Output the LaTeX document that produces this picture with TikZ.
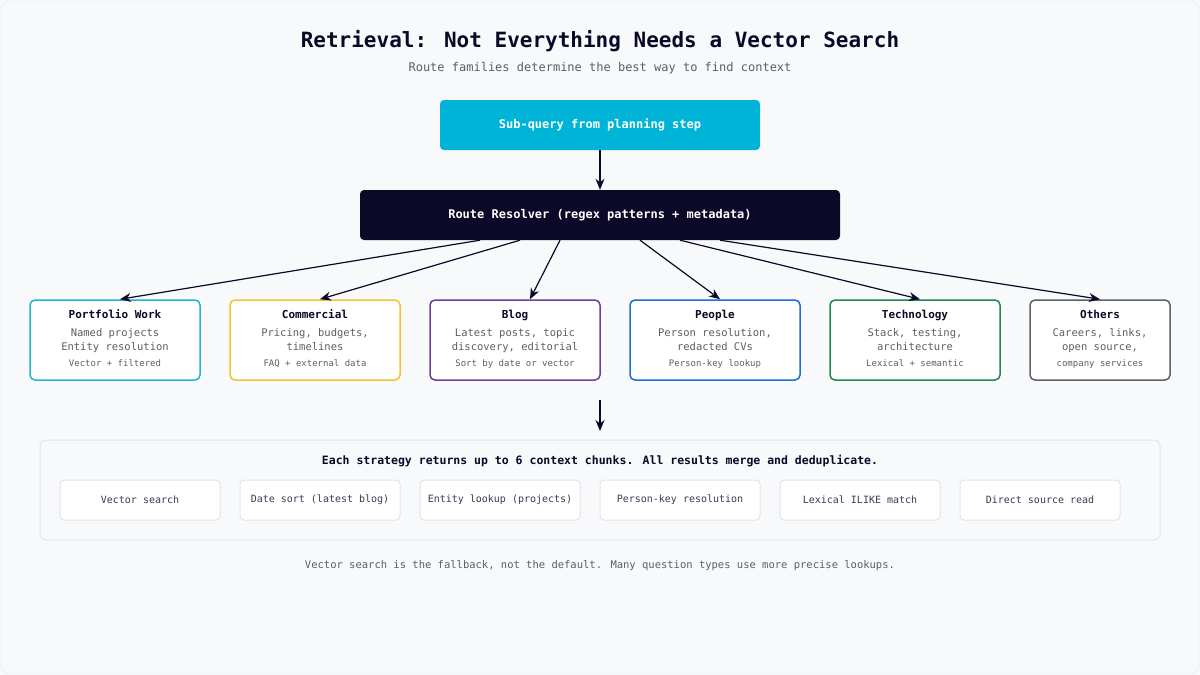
\documentclass[tikz,border=0pt]{standalone}
\usepackage{fontspec}
\setmainfont{DejaVu Sans Mono}
\usetikzlibrary{positioning,arrows.meta}
\definecolor{bgpage}{HTML}{F8F9FB}
\definecolor{ink}{HTML}{0B0828}
\definecolor{subgray}{HTML}{5A5F66}
\definecolor{cyanbox}{HTML}{00B4D8}
\definecolor{cPort}{HTML}{22B5CF}
\definecolor{cComm}{HTML}{F2C530}
\definecolor{cBlog}{HTML}{6B3FA0}
\definecolor{cPeop}{HTML}{1B6FD6}
\definecolor{cTech}{HTML}{1E8A50}
\definecolor{cOth}{HTML}{5E6368}
\definecolor{chipline}{HTML}{E2E5EA}
\tikzset{
  card/.style={draw=#1, line width=1.5pt, fill=white, rounded corners=5pt,
    minimum width=170pt, minimum height=80pt, inner sep=0pt},
  chip/.style={draw=chipline, line width=1pt, fill=white, rounded corners=4pt,
    minimum width=160pt, minimum height=40pt, font=\fontsize{10}{12}\selectfont, text=ink!80},
  route/.style={-{Stealth[length=11pt,width=9pt]}, line width=1.2pt, draw=ink},
}
\newcommand{\cardtext}[4]{%
  \def\arraystretch{1.17}%
  \begin{tabular}{@{}c@{}}\fontsize{11}{14}\selectfont\bfseries\color{ink}#1\\[4pt]
  \fontsize{10.5}{14}\selectfont\color{subgray}#2\\ \fontsize{10.5}{14}\selectfont\color{subgray}#3\\[2pt]
  \fontsize{9}{14}\selectfont\color{subgray}#4\end{tabular}}
\begin{document}
\begin{tikzpicture}[x=1pt,y=-1pt]
  % Fond
  \fill[bgpage] (0,0) rectangle (1200,675);
  \draw[chipline, rounded corners=8pt] (1,1) rectangle (1199,674);
  \node[font=\fontsize{21}{24}\selectfont\bfseries, text=ink] (title) at (600,41) {Retrieval: Not Everything Needs a Vector Search};
  \node[font=\fontsize{12}{14}\selectfont, text=subgray] (subtitle) at (600,68) {Route families determine the best way to find context};

  % Entree et resolveur
  \node[fill=cyanbox, rounded corners=4pt, minimum width=320pt, minimum height=50pt,
    text=white, font=\fontsize{12}{14}\selectfont\bfseries] (subq) at (600,125) {Sub-query from planning step};
  \node[fill=ink, rounded corners=4pt, minimum width=480pt, minimum height=50pt,
    text=white, font=\fontsize{12}{14}\selectfont\bfseries] (resolver) at (600,215) {Route Resolver (regex patterns + metadata)};
  \draw[route] (subq) -- (resolver);

  % Familles
  \node[card=cPort] (port) at (115,340) {\cardtext{Portfolio Work}{Named projects}{Entity resolution}{Vector + filtered}};
  \node[card=cComm] (comm) at (315,340) {\cardtext{Commercial}{Pricing, budgets,}{timelines}{FAQ + external data}};
  \node[card=cBlog] (blog) at (515,340) {\cardtext{Blog}{Latest posts, topic}{discovery, editorial}{Sort by date or vector}};
  \node[card=cPeop] (peop) at (715,340) {\cardtext{People}{Person resolution,}{redacted CVs}{Person-key lookup}};
  \node[card=cTech] (tech) at (915,340) {\cardtext{Technology}{Stack, testing,}{architecture}{Lexical + semantic}};
  \node[card=cOth, minimum width=140pt] (oth) at (1100,340) {\cardtext{Others}{Careers, links,}{open source,}{company services}};

  % Fleches
  \draw[route] ([xshift=-120pt]resolver.south) -- ([xshift=5pt]port.north);
  \draw[route] ([xshift=-80pt]resolver.south) -- ([xshift=5pt]comm.north);
  \draw[route] ([xshift=-40pt]resolver.south) -- ([xshift=15pt]blog.north);
  \draw[route] ([xshift=40pt]resolver.south) -- ([xshift=5pt]peop.north);
  \draw[route] ([xshift=80pt]resolver.south) -- ([xshift=5pt]tech.north);
  \draw[route] ([xshift=120pt]resolver.south) -- (oth.north);

  \coordinate (gapTop) at (600,400);
  \coordinate (gapBot) at (600,431);
  \draw[route] (gapTop) -- (gapBot);

  % Strategies
  \node[draw=chipline, line width=1pt, fill=bgpage, rounded corners=6pt,
    minimum width=1120pt, minimum height=100pt] (panel) at (600,490) {};
  \node[font=\fontsize{11.5}{14}\selectfont\bfseries, text=ink] (paneltitle) at (600,461)
    {Each strategy returns up to 6 context chunks. All results merge and deduplicate.};
  \node[chip] (s1) at (140,500) {Vector search};
  \node[chip] (s2) at (320,500) {Date sort (latest blog)};
  \node[chip] (s3) at (500,500) {Entity lookup (projects)};
  \node[chip] (s4) at (680,500) {Person-key resolution};
  \node[chip] (s5) at (860,500) {Lexical ILIKE match};
  \node[chip] (s6) at (1040,500) {Direct source read};

  \node[font=\fontsize{10.5}{12}\selectfont, text=subgray] (footer) at (600,566)
    {Vector search is the fallback, not the default. Many question types use more precise lookups.};
\end{tikzpicture}
\end{document}
